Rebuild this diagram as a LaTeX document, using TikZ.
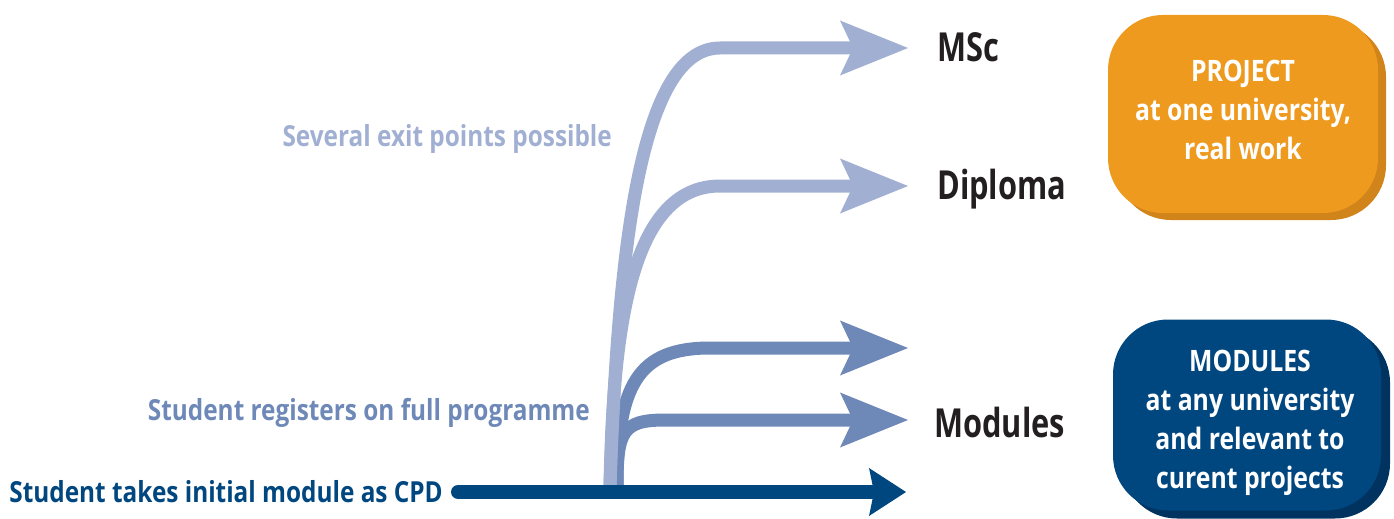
\documentclass[tikz,border=0pt]{standalone}
\usepackage{fontspec}
\setmainfont{Open Sans}[FakeStretch=0.84]
\newfontfamily\awardfont{Open Sans}[FakeStretch=0.77]
\usetikzlibrary{arrows.meta,shadows}

\definecolor{exitblue}{HTML}{A1B0D2}
\definecolor{progblue}{HTML}{6E89B8}
\definecolor{cpdblue}{HTML}{00467F}
\definecolor{labelgray}{HTML}{231F20}
\definecolor{projorange}{HTML}{EE9A1F}
\definecolor{projshade}{HTML}{D0841A}
\definecolor{modshade}{HTML}{00335F}

\begin{document}
\begin{tikzpicture}[yscale=-1
  ,astyle0/.style={color=exitblue,line width=13pt,-{Stealth[length=68pt,width=55pt,inset=13pt,line width=0pt]}}
  ,astyle1/.style={color=progblue,line width=13pt,-{Stealth[length=68pt,width=55pt,inset=13pt,line width=0pt]}}
  ,astyle2/.style={color=cpdblue,line width=14pt,line cap=round,-{Stealth[length=37pt,width=48pt,inset=5pt,line width=0pt]}}
  ,tstyle0/.style={inner sep=0pt,font=\bfseries\fontsize{29}{34}\selectfont}
  ,tstyle1/.style={inner sep=0pt,color=labelgray,font=\awardfont\bfseries\fontsize{40}{46}\selectfont}
  ,bstyle0/.style={rounded corners=55pt,inner sep=0pt}
  ,bstyle1/.style={align=center,text=white,inner sep=0pt,font=\bfseries\fontsize{29.5}{39}\selectfont}
]
\useasboundingbox (0pt,0pt) rectangle (1394pt,519pt);

% --- Labels on the left ---
\node[tstyle0,color=exitblue,anchor=base east] (several) at (612pt,146pt) {Several exit points possible};
\node[tstyle0,color=progblue,anchor=base east] (registers) at (590pt,420pt) {Student registers on full programme};
\node[tstyle0,color=cpdblue,anchor=base east] (initial) at (443pt,502pt) {Student takes initial module as CPD};

% --- Awards ---
\node[tstyle1,anchor=base west] (msc) at (937pt,62pt) {MSc};
\node[tstyle1,anchor=base west] (diploma) at (937pt,199pt) {Diploma};
\node[tstyle1,anchor=base west] (modules) at (934pt,437pt) {Modules};

% --- Boxes ---
\node[bstyle0,fill=projorange,minimum width=270pt,minimum height=198pt
  ,drop shadow={shadow xshift=8pt,shadow yshift=-7pt,opacity=1,fill=projshade}]
  (project) at (1243pt,114pt) {};
\node[bstyle1] (project text) at (1243pt,110pt) {PROJECT\\at one university,\\real work};

\node[bstyle0,fill=cpdblue,minimum width=268pt,minimum height=191pt
  ,drop shadow={shadow xshift=9pt,shadow yshift=-8pt,opacity=1,fill=modshade}]
  (modbox) at (1247pt,415pt) {};
\node[bstyle1] (modbox text) at (1250pt,423pt) {MODULES\\at any university\\and relevant to\\curent projects};

% --- Arrow ends ---
\coordinate (stem) at (610pt,486pt);
\coordinate (prog stem) at (617pt,486pt);
\coordinate (msc tip) at (908pt,48pt);
\coordinate (diploma tip) at (908pt,186pt);
\coordinate (upper tip) at (908pt,348pt);
\coordinate (lower tip) at (908pt,420pt);
\coordinate (cpd tip) at (906pt,492pt);

% --- Full programme branches ---
\draw[astyle1] (prog stem) .. controls (617pt,385pt) and (638pt,348pt) .. (710pt,348pt) -- (upper tip);
\draw[astyle1] (prog stem) .. controls (617pt,432pt) and (622pt,420pt) .. (665pt,420pt) -- (lower tip);

% --- Exit points ---
\draw[astyle0] (stem) .. controls (613pt,330pt) and (630pt,186pt) .. (720pt,186pt) -- (diploma tip);
\draw[astyle0] (stem) .. controls (618pt,250pt) and (640pt,48pt) .. (720pt,48pt) -- (msc tip);

% --- CPD line ---
\draw[astyle2] (initial.east |- cpd tip) ++(15pt,0pt) -- (cpd tip);

\end{tikzpicture}
\end{document}
